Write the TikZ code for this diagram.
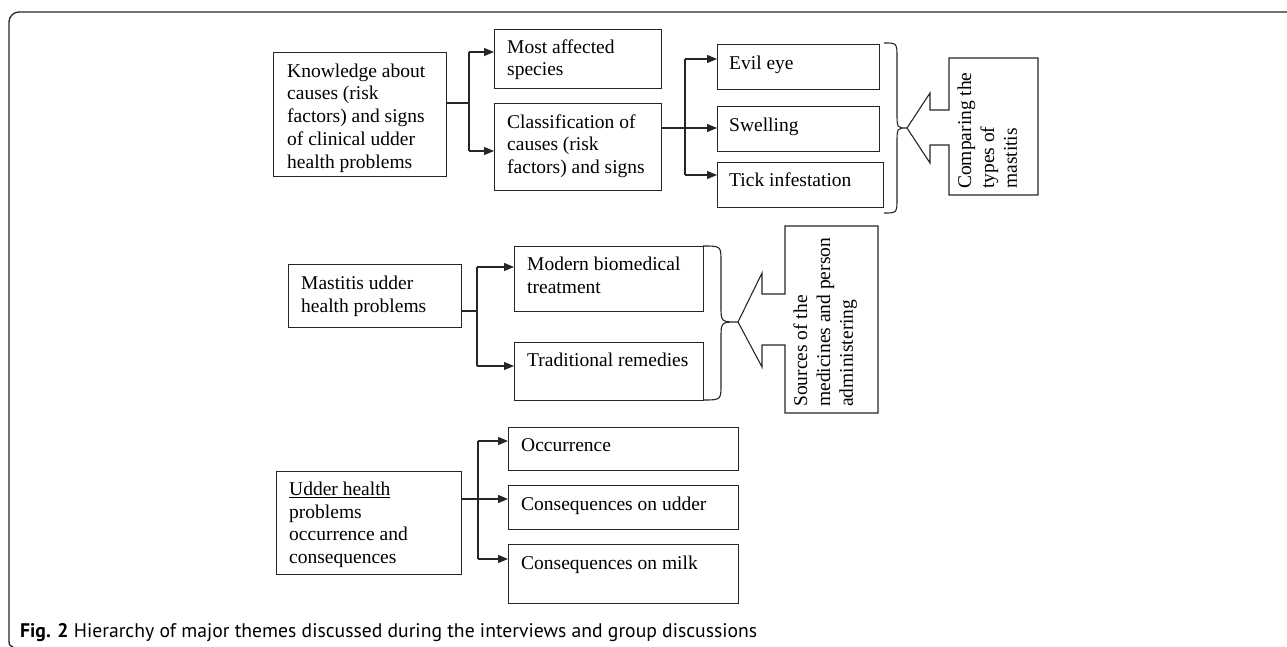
\documentclass[tikz,border=0pt]{standalone}
\usepackage{fontspec}
\setmainfont{Liberation Serif}
\newfontfamily\capfont{PT Sans}
\usetikzlibrary{arrows.meta}
\newcommand{\fl}{\rule{0pt}{15pt}}
\tikzset{
  ln/.style={draw=black!85, line width=1.1pt},
  box/.style={ln, rectangle, inner sep=0pt, anchor=north west},
  txt/.style={anchor=north west, inner sep=0pt, align=left,
    font=\fontsize{19.5pt}{22.8pt}\selectfont},
  arr/.style={ln, -{Triangle[length=10pt,width=8pt]}},
  brace/.style={ln},
}
\begin{document}
\begin{tikzpicture}[x=1pt,y=-1pt]
\useasboundingbox (0,0) rectangle (1287,647);
% frame
\draw[draw=black!85, line width=1.3pt] (13,647) .. controls (9,645) .. (9,638)
  [rounded corners=10pt] -- (9,12) -- (1290,12);

% ---------- group 1 ----------
\node[box, minimum width=173pt, minimum height=124pt] (K) at (273,52) {};
\node[txt] (Kt) at (287,62) {\fl Knowledge about\\causes (risk\\factors) and signs\\of clinical udder\\health problems};
\node[box, minimum width=167pt, minimum height=59pt] (MA) at (494,29) {};
\node[txt] (MAt) at (507,38) {\fl Most affected\\species};
\node[box, minimum width=167pt, minimum height=87pt] (CL) at (494,103) {};
\node[txt] (CLt) at (507,113) {\fl Classification of\\causes (risk\\factors) and signs};
\node[box, minimum width=162pt, minimum height=45pt] (EE) at (717,44) {};
\node[txt] (EEt) at (729,54) {\fl Evil eye};
\node[box, minimum width=162pt, minimum height=45pt] (SW) at (717,106) {};
\node[txt] (SWt) at (729,116) {\fl Swelling};
\node[box, minimum width=166pt, minimum height=45pt] (TI) at (717,162) {};
\node[txt] (TIt) at (729,171) {\fl Tick infestation};

\coordinate (j1) at (469,103);
\draw[ln] (K.east |- j1) -- (j1);
\draw[ln] (469,52) -- (469,151);
\draw[arr] (469,52) -- (MA.west |- 0,52);
\draw[arr] (469,151) -- (CL.west |- 0,151);

\coordinate (j2) at (685,128);
\draw[arr] (CL.east |- j2) -- (SW.west |- j2);
\draw[ln] (685,59) -- (685,175);
\draw[arr] (685,59) -- (EE.west |- 0,59);
\draw[arr] (685,175) -- (TI.west |- 0,175);

% brace 1
\coordinate (b1) at (907,128);
\draw[brace] (884,43) .. controls (897,43) .. (897,58) -- (897,113) .. controls (897,128) .. (b1)
  .. controls (897,128) .. (897,143) -- (897,198) .. controls (897,213) .. (884,213);
% callout 1
\draw[ln] (949,110) -- (930,110) -- (930,93) -- (b1) -- (930,163) -- (930,145) -- (949,145)
  -- (949,195) -- (1038,195) -- (1038,58) -- (949,58) -- cycle;
\node[txt, rotate=90] (CMt) at (956,189) {\fl Comparing the\\types of\\mastitis};

% ---------- group 2 ----------
\node[box, minimum width=173pt, minimum height=63pt] (MU) at (288,264) {};
\node[txt] (MUt) at (301,274) {\fl Mastitis udder\\health problems};
\node[box, minimum width=189pt, minimum height=65pt] (MB) at (514,246) {};
\node[txt] (MBt) at (527,255) {\fl Modern biomedical\\treatment};
\node[box, minimum width=189pt, minimum height=58pt] (TR) at (514,342) {};
\node[txt] (TRt) at (527,351) {\fl Traditional remedies};

\coordinate (j3) at (477,311);
\draw[ln] (MU.east |- j3) -- (j3);
\draw[ln] (477,267) -- (477,366);
\draw[arr] (477,267) -- (MB.west |- 0,267);
\draw[arr] (477,366) -- (TR.west |- 0,366);

% brace 2
\coordinate (b2) at (738,322);
\draw[brace] (703,246) .. controls (721,246) .. (721,262) -- (721,306) .. controls (721,322) .. (b2)
  .. controls (721,322) .. (721,338) -- (721,384) .. controls (721,400) .. (703,400);
% callout 2
\draw[ln] (785,294) -- (762,294) -- (762,273) -- (b2) -- (762,367) -- (762,345) -- (785,345)
  -- (785,413) -- (878,413) -- (878,226) -- (785,226) -- cycle;
\node[txt, rotate=90] (SMt) at (792,407) {\fl Sources of the\\medicines and person\\administering};

% ---------- group 3 ----------
\node[box, minimum width=185pt, minimum height=103pt] (UH) at (276,471) {};
\node[txt] (UHt) at (289,480) {\fl\underline{Udder health}\\problems\\occurrence and\\consequences};
\node[box, minimum width=230pt, minimum height=43pt] (OC) at (508,427) {};
\node[txt] (OCt) at (521,436) {\fl Occurrence};
\node[box, minimum width=230pt, minimum height=44pt] (CU) at (508,485) {};
\node[txt] (CUt) at (521,495) {\fl Consequences on udder};
\node[box, minimum width=230pt, minimum height=59pt] (CM) at (508,544) {};
\node[txt] (CMt2) at (521,554) {\fl Consequences on milk};

\coordinate (j4) at (478,499);
\draw[arr] (UH.east |- j4) -- (CU.west |- j4);
\draw[ln] (478,441) -- (478,559);
\draw[arr] (478,441) -- (OC.west |- 0,441);
\draw[arr] (478,559) -- (CM.west |- 0,559);

% caption
\node[anchor=base west, inner sep=0pt] (cap) at (20,637)
  {\resizebox{737pt}{!}{\capfont\fontsize{18pt}{20pt}\selectfont\textbf{Fig. 2} Hierarchy of major themes discussed during the interviews and group discussions}};
\end{tikzpicture}
\end{document}
